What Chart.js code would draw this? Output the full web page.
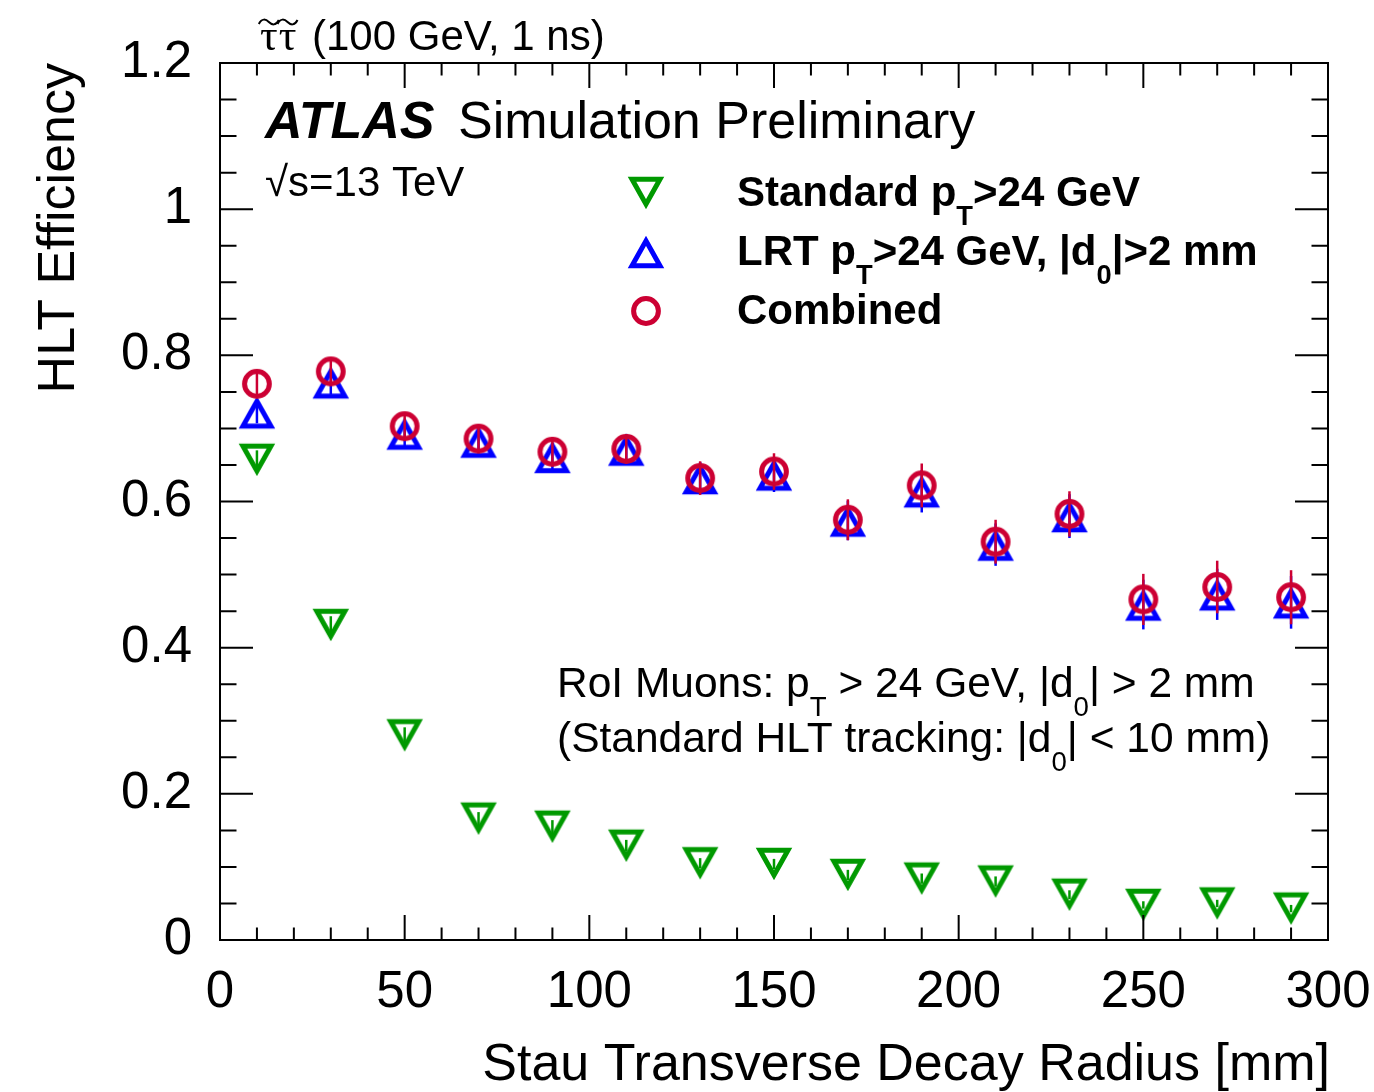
<!DOCTYPE html>
<html>
<head>
<meta charset="utf-8">
<script src="https://cdn.jsdelivr.net/npm/chart.js@4.4.1/dist/chart.umd.min.js"></script>
<style>
  html, body { margin: 0; padding: 0; background: #fff; }
  canvas { display: block; }
</style>
</head>
<body>
<canvas id="effChart" width="1374" height="1092"></canvas>
<script>
// Stau transverse decay radius bin centres [mm]
const decayRadius = [10, 30, 50, 70, 90, 110, 130, 150, 170, 190, 210, 230, 250, 270, 290];

// Standard tracking, pT > 24 GeV
const effStandard = [0.657, 0.431, 0.280, 0.166, 0.155, 0.129, 0.105, 0.104, 0.089, 0.084, 0.080, 0.062, 0.048, 0.050, 0.043];
const errStandard = [0.013, 0.012, 0.011, 0.009, 0.009, 0.008, 0.007, 0.007, 0.007, 0.007, 0.007, 0.006, 0.005, 0.005, 0.005];

// Large radius tracking, pT > 24 GeV, |d0| > 2 mm
const effLRT = [0.722, 0.763, 0.693, 0.682, 0.661, 0.671, 0.632, 0.637, 0.574, 0.614, 0.541, 0.580, 0.459, 0.473, 0.462];
const errLRT = [0.015, 0.017, 0.017, 0.018, 0.019, 0.020, 0.022, 0.024, 0.027, 0.029, 0.029, 0.030, 0.034, 0.035, 0.036];

// Combined
const effCombined = [0.761, 0.778, 0.703, 0.686, 0.668, 0.672, 0.632, 0.641, 0.575, 0.622, 0.545, 0.583, 0.466, 0.483, 0.469];
const errCombined = [0.015, 0.018, 0.018, 0.018, 0.020, 0.020, 0.023, 0.025, 0.028, 0.030, 0.030, 0.031, 0.035, 0.036, 0.037];

const FONT = '"Liberation Sans", Arial, Helvetica, sans-serif';
const GREEN = '#009900';
const BLUE = '#0000ff';
const RED = '#cc0033';

// hollow ROOT-style markers drawn once into small canvases
function makeMarker(kind, color) {
    const c = document.createElement('canvas');
    c.width = 44;
    c.height = 44;
    const g = c.getContext('2d');
    const lw = 5, hw = 14, hh = 12.5;
    g.strokeStyle = color;
    g.lineWidth = lw;
    g.lineJoin = 'miter';
    g.beginPath();
    if (kind === 'circle') {
        g.arc(22, 22, 12.4, 0, Math.PI * 2);
    } else {
        // keep the outer outline centred (miter tip sticks out further)
        const tip = (lw / 2) / Math.sin(Math.atan(hw / (2 * hh)));
        const shift = (tip - lw / 2) / 2;
        if (kind === 'down') {
            const cy = 22 - shift;
            g.moveTo(22 - hw, cy - hh);
            g.lineTo(22 + hw, cy - hh);
            g.lineTo(22, cy + hh);
        } else {
            const cy = 22 + shift;
            g.moveTo(22 - hw, cy + hh);
            g.lineTo(22 + hw, cy + hh);
            g.lineTo(22, cy - hh);
        }
        g.closePath();
    }
    g.stroke();
    return c;
}

const markerStandard = makeMarker('down', GREEN);
const markerLRT = makeMarker('up', BLUE);
const markerCombined = makeMarker('circle', RED);

function toPoints(ys) {
    return decayRadius.map((x, i) => ({ x: x, y: ys[i] }));
}

// vertical error bars, drawn just before each dataset's markers
const errorBars = {
    id: 'errorBars',
    beforeDatasetDraw(chart, args) {
        const ds = chart.data.datasets[args.index];
        const yScale = chart.scales.y;
        const ctx = chart.ctx;
        ctx.save();
        ctx.strokeStyle = ds.errColor;
        ctx.lineWidth = 2.5;
        args.meta.data.forEach((pt, i) => {
            const v = ds.data[i].y, e = ds.errors[i];
            ctx.beginPath();
            ctx.moveTo(pt.x, yScale.getPixelForValue(v - e));
            ctx.lineTo(pt.x, yScale.getPixelForValue(v + e));
            ctx.stroke();
        });
        ctx.restore();
    }
};

function drawRich(ctx, x, y, parts, size, weight, style) {
    let cx = x;
    parts.forEach(p => {
        const sub = p[1] === 'sub';
        const fs = sub ? size * 0.65 : size;
        ctx.font = (style || 'normal') + ' ' + (weight || 'normal') + ' ' + fs + 'px ' + FONT;
        ctx.fillText(p[0], cx, sub ? y + size * 0.45 : y);
        cx += ctx.measureText(p[0]).width;
    });
}

// tau with a wide tilde on top
function drawStau(ctx, x, y) {
    ctx.font = '44px "Liberation Serif", "DejaVu Serif", serif';
    const w = ctx.measureText('\u03c4').width;
    ctx.lineWidth = 2;
    ctx.strokeStyle = '#000';
    for (let k = 0; k < 2; k++) {
        const x0 = x + k * (w + 1);
        ctx.fillText('\u03c4', x0, y);
        const cx = x0 + w / 2, ty = y - 28;
        ctx.beginPath();
        ctx.moveTo(cx - 10, ty + 2);
        ctx.bezierCurveTo(cx - 7, ty - 4, cx - 3, ty - 3, cx, ty);
        ctx.bezierCurveTo(cx + 3, ty + 3, cx + 7, ty + 4, cx + 10, ty - 2);
        ctx.stroke();
    }
    return x + 2 * (w + 1);
}

// frame, inward ticks on all four sides, titles and labels
const decorations = {
    id: 'decorations',
    afterDraw(chart) {
        const ctx = chart.ctx;
        const a = chart.chartArea;
        const xs = chart.scales.x, ys = chart.scales.y;
        ctx.save();
        ctx.strokeStyle = '#000';
        ctx.lineWidth = 2;
        ctx.strokeRect(a.left, a.top, a.right - a.left, a.bottom - a.top);

        ctx.beginPath();
        for (let v = 0; v <= 300; v += 10) {
            const px = xs.getPixelForValue(v);
            const len = v % 50 === 0 ? 25 : 12.5;
            ctx.moveTo(px, a.bottom); ctx.lineTo(px, a.bottom - len);
            ctx.moveTo(px, a.top); ctx.lineTo(px, a.top + len);
        }
        for (let k = 0; k <= 24; k++) {
            const py = ys.getPixelForValue(k * 0.05);
            const len = k % 4 === 0 ? 33 : 16.5;
            ctx.moveTo(a.left, py); ctx.lineTo(a.left + len, py);
            ctx.moveTo(a.right, py); ctx.lineTo(a.right - len, py);
        }
        ctx.stroke();

        ctx.fillStyle = '#000';
        ctx.textBaseline = 'alphabetic';

        // axis titles
        ctx.font = '52px ' + FONT;
        ctx.textAlign = 'right';
        ctx.fillText('Stau Transverse Decay Radius [mm]', a.right + 2, 1080);
        ctx.save();
        ctx.translate(74, a.top);
        ctx.rotate(-Math.PI / 2);
        ctx.fillText('HLT Efficiency', 0, 0);
        ctx.restore();

        ctx.textAlign = 'left';
        drawStau(ctx, 260, 50);
        ctx.font = '42px ' + FONT;
        ctx.fillText('(100 GeV, 1 ns)', 312, 50);

        ctx.font = 'italic bold 52px ' + FONT;
        ctx.fillText('ATLAS', 265, 138);
        ctx.font = '52px ' + FONT;
        ctx.fillText('Simulation Preliminary', 458, 138);

        ctx.font = '42px ' + FONT;
        ctx.fillText('\u221as=13 TeV', 265, 196);

        // legend
        const legendRows = [
            { m: markerStandard, y: 193, parts: [['Standard p'], ['T', 'sub'], ['>24 GeV']] },
            { m: markerLRT, y: 252, parts: [['LRT p'], ['T', 'sub'], ['>24 GeV, |d'], ['0', 'sub'], ['|>2 mm']] },
            { m: markerCombined, y: 311, parts: [['Combined']] }
        ];
        legendRows.forEach(r => {
            ctx.drawImage(r.m, 646 - 22, r.y - 22);
            drawRich(ctx, 737, r.y + 13, r.parts, 42, 'bold');
        });

        drawRich(ctx, 557, 697, [['RoI Muons: p'], ['T', 'sub'], [' > 24 GeV, |d'], ['0', 'sub'], ['| > 2 mm']], 42.5);
        drawRich(ctx, 557, 752, [['(Standard HLT tracking: |d'], ['0', 'sub'], ['| < 10 mm)']], 42.5);
        ctx.restore();
    }
};

new Chart(document.getElementById('effChart').getContext('2d'), {
    type: 'scatter',
    data: {
        datasets: [
            {
                label: 'Standard',
                data: toPoints(effStandard),
                errors: errStandard,
                errColor: GREEN,
                pointStyle: markerStandard,
                pointRadius: 16,
                order: 3
            },
            {
                label: 'LRT',
                data: toPoints(effLRT),
                errors: errLRT,
                errColor: BLUE,
                pointStyle: markerLRT,
                pointRadius: 16,
                order: 2
            },
            {
                label: 'Combined',
                data: toPoints(effCombined),
                errors: errCombined,
                errColor: RED,
                pointStyle: markerCombined,
                pointRadius: 16,
                order: 1
            }
        ]
    },
    options: {
        responsive: false,
        animation: false,
        events: [],
        layout: { padding: { left: 0, right: 46, top: 63, bottom: 0 } },
        plugins: {
            legend: { display: false },
            tooltip: { enabled: false }
        },
        scales: {
            x: {
                type: 'linear',
                min: 0,
                max: 300,
                grid: { display: false, drawTicks: false },
                border: { display: false },
                ticks: { stepSize: 50, padding: 22, maxRotation: 0, color: '#000', font: { family: FONT, size: 51 } },
                afterFit: s => { s.height = 152; s.paddingLeft = 0; s.paddingRight = 0; }
            },
            y: {
                type: 'linear',
                min: 0,
                max: 1.2,
                grid: { display: false, drawTicks: false },
                border: { display: false },
                ticks: {
                    stepSize: 0.2,
                    padding: 28,
                    color: '#000',
                    font: { family: FONT, size: 51 },
                    callback: v => String(Math.round(v * 10) / 10)
                },
                afterFit: s => { s.width = 220; s.paddingTop = 0; s.paddingBottom = 0; }
            }
        }
    },
    plugins: [errorBars, decorations]
});
</script>
</body>
</html>
